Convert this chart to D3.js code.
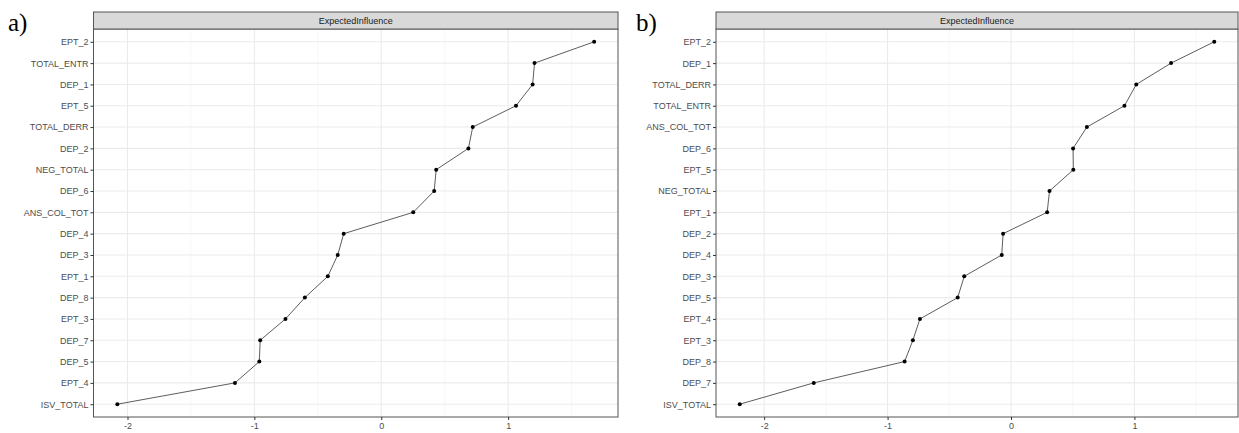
<!DOCTYPE html>
<html>
<head>
<meta charset="utf-8">
<script src="https://d3js.org/d3.v7.min.js"></script>
<style>
  body { margin: 0; background: #fff; }
  svg { display: block; }
  .lbl { font-family: 'Liberation Sans', Arial, sans-serif; font-size: 9px; fill: #4d4d4d; }
  .tag { font-family: 'Liberation Serif', 'Times New Roman', serif; font-size: 25px; fill: #000; }
</style>
</head>
<body>
<svg id="chart" width="1239" height="433"></svg>
<script>
// panel a) - nodes top to bottom and their expected influence
var namesA = ["EPT_2","TOTAL_ENTR","DEP_1","EPT_5","TOTAL_DERR","DEP_2","NEG_TOTAL","DEP_6","ANS_COL_TOT",
              "DEP_4","DEP_3","EPT_1","DEP_8","EPT_3","DEP_7","DEP_5","EPT_4","ISV_TOTAL"];
var valuesA = [1.678, 1.208, 1.193, 1.062, 0.721, 0.687, 0.433, 0.417, 0.252,
               -0.296, -0.343, -0.421, -0.602, -0.755, -0.954, -0.961, -1.153, -2.080];

// panel b)
var namesB = ["EPT_2","DEP_1","TOTAL_DERR","TOTAL_ENTR","ANS_COL_TOT","DEP_6","EPT_5","NEG_TOTAL","EPT_1",
              "DEP_2","DEP_4","DEP_3","DEP_5","EPT_4","EPT_3","DEP_8","DEP_7","ISV_TOTAL"];
var valuesB = [1.647, 1.297, 1.015, 0.919, 0.615, 0.503, 0.505, 0.312, 0.293,
               -0.064, -0.075, -0.379, -0.432, -0.738, -0.795, -0.862, -1.598, -2.198];

var xTicks = [-2, -1, 0, 1];
var xMinor = [-1.5, -0.5, 0.5, 1.5];
var stripTitle = "ExpectedInfluence";

var svg = d3.select("#chart");

function drawPanel(tag, names, values, box) {
  var g = svg.append("g");
  var lo = d3.min(values), hi = d3.max(values), pad = (hi - lo) * 0.05;

  var x = d3.scaleLinear().domain([lo - pad, hi + pad]).range([box.left, box.right]);
  var y = d3.scalePoint().domain(names).range([box.top, box.bottom]).padding(0.6);

  // panel background
  g.append("rect")
    .attr("x", box.left).attr("y", box.top)
    .attr("width", box.right - box.left).attr("height", box.bottom - box.top)
    .attr("fill", "#fff");

  // minor grid
  g.selectAll(".minor").data(xMinor.filter(function(d) { return x(d) > box.left && x(d) < box.right; }))
    .enter().append("line")
    .attr("x1", function(d) { return x(d); }).attr("x2", function(d) { return x(d); })
    .attr("y1", box.top).attr("y2", box.bottom)
    .attr("stroke", "#f2f2f2").attr("stroke-width", 0.6);

  // major grid
  g.selectAll(".vmaj").data(xTicks)
    .enter().append("line")
    .attr("x1", function(d) { return x(d); }).attr("x2", function(d) { return x(d); })
    .attr("y1", box.top).attr("y2", box.bottom)
    .attr("stroke", "#ebebeb").attr("stroke-width", 1.1);
  g.selectAll(".hmaj").data(names)
    .enter().append("line")
    .attr("x1", box.left).attr("x2", box.right)
    .attr("y1", function(d) { return y(d); }).attr("y2", function(d) { return y(d); })
    .attr("stroke", "#ebebeb").attr("stroke-width", 1.1);

  // line + points
  var pts = names.map(function(n, i) { return [x(values[i]), y(n)]; });
  g.append("path")
    .attr("d", d3.line()(pts))
    .attr("fill", "none").attr("stroke", "#333").attr("stroke-width", 0.8);
  g.selectAll(".pt").data(pts)
    .enter().append("circle")
    .attr("cx", function(d) { return d[0]; }).attr("cy", function(d) { return d[1]; })
    .attr("r", 2).attr("fill", "#000");

  // panel border
  g.append("rect")
    .attr("x", box.left).attr("y", box.top)
    .attr("width", box.right - box.left).attr("height", box.bottom - box.top)
    .attr("fill", "none").attr("stroke", "#555").attr("stroke-width", 1);

  // strip
  g.append("rect")
    .attr("x", box.left).attr("y", box.stripTop)
    .attr("width", box.right - box.left).attr("height", box.top - box.stripTop)
    .attr("fill", "#d9d9d9").attr("stroke", "#555").attr("stroke-width", 1);
  g.append("text").attr("class", "lbl")
    .attr("x", (box.left + box.right) / 2).attr("y", (box.top + box.stripTop) / 2 + 3)
    .attr("text-anchor", "middle").style("fill", "#1a1a1a")
    .text(stripTitle);

  // axes
  var ya = g.append("g").attr("transform", "translate(" + box.left + ",0)")
    .call(d3.axisLeft(y).tickSize(3).tickPadding(2));
  var xa = g.append("g").attr("transform", "translate(0," + box.bottom + ")")
    .call(d3.axisBottom(x).tickValues(xTicks).tickFormat(d3.format("d")).tickSize(3).tickPadding(3));
  [ya, xa].forEach(function(a) {
    a.select(".domain").remove();
    a.selectAll(".tick line").attr("stroke", "#333");
    a.selectAll("text").attr("class", "lbl").attr("font-family", null).attr("font-size", null);
  });
  xa.selectAll(".tick text").text(function(d) { return d < 0 ? "-" + Math.abs(d) : d; });

  // panel tag
  svg.append("text").attr("class", "tag")
    .attr("x", box.tagX).attr("y", 31).text(tag);
}

drawPanel("a)", namesA, valuesA, { left: 93.5, right: 618, top: 29, bottom: 417, stripTop: 12, tagX: 8 });
drawPanel("b)", namesB, valuesB, { left: 716, right: 1238, top: 29, bottom: 417, stripTop: 12, tagX: 636 });
</script>
</body>
</html>
